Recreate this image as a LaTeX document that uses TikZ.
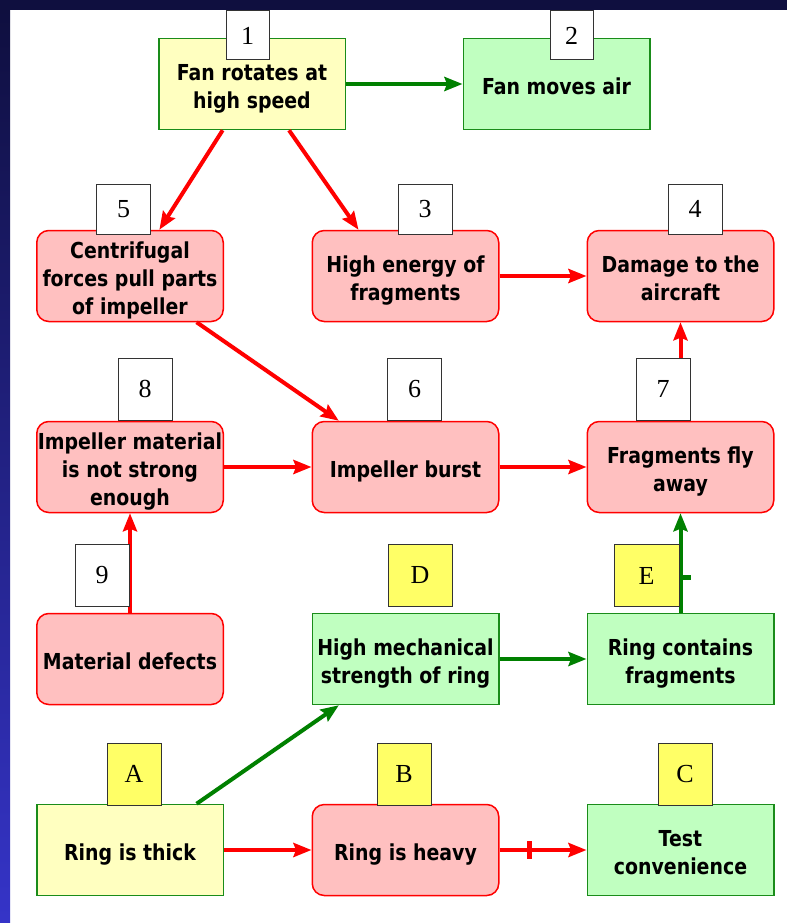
\documentclass[tikz,border=0pt]{standalone}
\usepackage{fontspec}
\newfontfamily\boxfont{DejaVu Sans}[FakeStretch=0.86]
\newfontfamily\tagfont{Liberation Serif}
\usetikzlibrary{arrows.meta}

\definecolor{navy}{HTML}{0F0F3F}
\definecolor{strip}{HTML}{3534C8}
\definecolor{paleyellow}{HTML}{FFFFC0}
\definecolor{palegreen}{HTML}{C0FFC0}
\definecolor{palepink}{HTML}{FFC0C0}
\definecolor{tagyellow}{HTML}{FFFF66}
\definecolor{boxgreen}{HTML}{1A8C1A}
\definecolor{arrowgreen}{HTML}{008000}
\definecolor{arrowred}{HTML}{FF0000}
\definecolor{tagline}{HTML}{333333}

% centred lines of box text, set a little lower than the geometric centre
\newcommand\boxtext[1]{\raisebox{-5pt}[\height][\depth]{\begin{tabular}{@{}c@{}}#1\end{tabular}}}

\tikzset{
  box/.style={rectangle, minimum width=186.5pt, minimum height=91pt,
    inner sep=0pt, line width=1.5pt, text=black,
    font=\fontsize{22}{28}\selectfont\boxfont\bfseries},
  yellowbox/.style={box, draw=boxgreen, fill=paleyellow},
  greenbox/.style={box, draw=boxgreen, fill=palegreen},
  pinkbox/.style={box, draw=arrowred, fill=palepink, rounded corners=12pt},
  tag/.style={rectangle, draw=tagline, line width=1pt, fill=white,
    inner sep=0pt, minimum width=54pt, minimum height=62pt,
    font=\fontsize{26}{26}\selectfont\tagfont},
  tagy/.style={tag, fill=tagyellow},
  redarrow/.style={draw=arrowred, line width=4pt,
    -{Stealth[length=18pt, width=14pt, inset=2.5pt]}},
  greenarrow/.style={draw=arrowgreen, line width=4pt,
    -{Stealth[length=18pt, width=14pt, inset=2.5pt]}},
  crossbar/.style={rectangle, fill=arrowred, inner sep=0pt,
    minimum width=5pt, minimum height=18pt},
  sidebar/.style={rectangle, fill=arrowgreen, inner sep=0pt, anchor=west,
    minimum width=8pt, minimum height=5pt}
}

\begin{document}
\begin{tikzpicture}[x=1pt, y=-1pt]
\useasboundingbox (0,0) rectangle (787,923);
% page background with navy top band and shaded left band
\fill[white] (0,0) rectangle (787,923);
\fill[navy] (0,0) rectangle (787,10);
\shade[top color=navy, bottom color=strip] (0,10) rectangle (10,923);

% event boxes
\node[yellowbox] (n1) at (252,84)    {\boxtext{Fan rotates at\\high speed}};
\node[greenbox]  (n2) at (556.5,84)  {\boxtext{Fan moves air}};
\node[pinkbox]   (n5) at (130,276)   {\boxtext{Centrifugal\\forces pull parts\\of impeller}};
\node[pinkbox]   (n3) at (405.5,276) {\boxtext{High energy of\\fragments}};
\node[pinkbox]   (n4) at (680.5,276) {\boxtext{Damage to the\\aircraft}};
\node[pinkbox]   (n8) at (130,467)   {\boxtext{Impeller material\\is not strong\\enough}};
\node[pinkbox]   (n6) at (405.5,467) {\boxtext{Impeller burst}};
\node[pinkbox]   (n7) at (680.5,467) {\boxtext{Fragments fly\\away}};
\node[pinkbox]   (n9) at (130,659)   {\boxtext{Material defects}};
\node[greenbox]  (nD) at (405.5,659) {\boxtext{High mechanical\\strength of ring}};
\node[greenbox]  (nE) at (680.5,659) {\boxtext{Ring contains\\fragments}};
\node[yellowbox] (nA) at (130,850)   {\boxtext{Ring is thick}};
\node[pinkbox]   (nB) at (405.5,850) {\boxtext{Ring is heavy}};
\node[greenbox]  (nC) at (680.5,850) {\boxtext{Test\\convenience}};

% cause-effect connectors
\draw[greenarrow] (n1) -- (n2);
\draw[redarrow] (n1) -- (n5);
\draw[redarrow] ([xshift=37pt]n1.south) -- ([xshift=-47pt]n3.north);
\draw[redarrow] (n3) -- (n4);
\draw[redarrow] (n5) -- (n6);
\draw[redarrow] (n8) -- (n6);
\draw[redarrow] (n6) -- (n7);
\draw[redarrow] (n7) -- (n4);
\draw[redarrow] (n9) -- (n8);
\draw[greenarrow] (nD) -- (nE);
\draw[greenarrow] (nE) -- node[pos=0.35, sidebar] {} (n7);
\draw[greenarrow] (nA) -- (nD);
\draw[redarrow] (nA) -- (nB);
\draw[redarrow] (nB) -- node[pos=0.35, crossbar] {} (nC);

% identifier tags
\node[tag, minimum width=43pt, minimum height=49pt] (t1) at (247.5,35.5) {1};
\node[tag, minimum width=43pt, minimum height=49pt] (t2) at (571.5,35.5) {2};
\node[tag, minimum height=50pt] (t5) at (123.5,209) {5};
\node[tag, minimum height=50pt] (t3) at (425,209) {3};
\node[tag, minimum height=50pt] (t4) at (695,209) {4};
\node[tag] (t8) at (145,389) {8};
\node[tag] (t6) at (414.5,389) {6};
\node[tag] (t7) at (663,389) {7};
\node[tag] (t9) at (102,575) {9};
\node[tagy, minimum width=64pt] (tD) at (420,575) {D};
\node[tagy, minimum width=65pt] (tE) at (646.5,575.5) {E};
\node[tagy] (tA) at (134,774) {A};
\node[tagy] (tB) at (404,774) {B};
\node[tagy] (tC) at (685,774) {C};
\end{tikzpicture}
\end{document}
